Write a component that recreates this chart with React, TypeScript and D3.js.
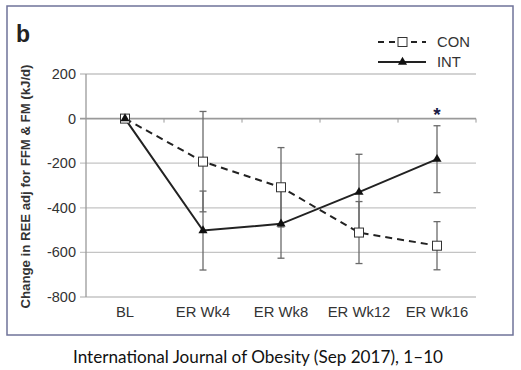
import React from 'react';
import * as d3 from 'd3';

const categories = ['BL', 'ER Wk4', 'ER Wk8', 'ER Wk12', 'ER Wk16'];
const conValues = [0, -193, -308, -511, -570];
const conErrors = [0, 225, 178, 139, 108];
const intValues = [0, -502, -472, -330, -182];
const intErrors = [0, 177, 154, 170, 150];
const yTicks = [200, 0, -200, -400, -600, -800];
const sigIndex = 4;
const sigValue = 62;

const W = 521;
const H = 370;
const font = 'Arial, "Liberation Sans", sans-serif';

const App: React.FC = () => {
  const x = d3.scaleBand<string>().domain(categories).range([86, 476]).padding(0);
  const y = d3.scaleLinear().domain([-800, 200]).range([297, 74]);
  const cx = (i: number) => (x(categories[i]) || 0) + x.bandwidth() / 2;

  const line = d3
    .line<number>()
    .x((_, i) => cx(i))
    .y((d) => y(d));

  const boundaries = categories.map((c) => (x(c) || 0) + x.bandwidth());
  const tri = d3.symbol().type(d3.symbolTriangle).size(36)();

  return (
    <svg width={W} height={H} style={{ position: 'absolute', left: 0, top: 0, background: '#fff' }}>
      <rect x={7} y={6} width={506} height={329} fill="#fff" stroke="#6f7399" strokeWidth={1.5} />
      <text x={16} y={42} fontFamily={font} fontWeight="bold" fontSize={23} fill="#222">b</text>

      {/* grid + y ticks */}
      {yTicks.map((t) => (
        <g key={t}>
          <line x1={80} x2={476} y1={y(t)} y2={y(t)} stroke={t === 0 ? '#9a9a9a' : '#c4c4c4'} strokeWidth={t === 0 ? 1.6 : 1.3} />
          <text x={76} y={y(t)} dy="0.35em" textAnchor="end" fontFamily={font} fontSize={14.5} fill="#333">
            {t}
          </text>
        </g>
      ))}
      <line x1={86} x2={86} y1={y(200)} y2={y(-800)} stroke="#9a9a9a" strokeWidth={1.3} />
      {boundaries.map((bx, i) => (
        <line key={i} x1={bx} x2={bx} y1={y(0)} y2={y(0) + 4} stroke="#9a9a9a" strokeWidth={1} />
      ))}

      {categories.map((c, i) => (
        <text key={c} x={cx(i)} y={317} textAnchor="middle" fontFamily={font} fontSize={14.8} fill="#333">
          {c}
        </text>
      ))}

      <text
        transform={`translate(29.5, ${(y(200) + y(-800)) / 2 + 1}) rotate(-90)`}
        textAnchor="middle"
        fontFamily={font}
        fontWeight="bold"
        fontSize={12.5}
        fill="#333"
        textLength={244}
        lengthAdjust="spacingAndGlyphs"
      >
        Change in REE adj for FFM &amp; FM (kJ/d)
      </text>

      {/* error bars */}
      {[
        { v: conValues, e: conErrors },
        { v: intValues, e: intErrors },
      ].map((s, si) =>
        s.v.map((v, i) =>
          s.e[i] > 0 ? (
            <g key={`${si}-${i}`} stroke="#6a6a6a" strokeWidth={1.3}>
              <line x1={cx(i)} x2={cx(i)} y1={y(v + s.e[i])} y2={y(v - s.e[i])} />
              <line x1={cx(i) - 3.5} x2={cx(i) + 3.5} y1={y(v + s.e[i])} y2={y(v + s.e[i])} />
              <line x1={cx(i) - 3.5} x2={cx(i) + 3.5} y1={y(v - s.e[i])} y2={y(v - s.e[i])} />
            </g>
          ) : null
        )
      )}

      <path d={line(conValues) || ''} fill="none" stroke="#222" strokeWidth={2} strokeDasharray="7,5" />
      <path d={line(intValues) || ''} fill="none" stroke="#222" strokeWidth={2} />

      {conValues.map((v, i) => (
        <rect key={i} x={cx(i) - 4.5} y={y(v) - 4.5} width={9} height={9} fill="#fff" stroke="#333" strokeWidth={1} />
      ))}
      {intValues.map((v, i) => (
        <path key={i} d={tri || ''} transform={`translate(${cx(i)},${y(v)})`} fill="#111" />
      ))}

      <text x={cx(sigIndex)} y={y(sigValue)} dy="0.85em" textAnchor="middle" fontFamily={font} fontWeight="bold" fontSize={19} fill="#1a1b45">
        *
      </text>

      {/* legend */}
      <line x1={378} x2={426} y1={42} y2={42} stroke="#222" strokeWidth={2} strokeDasharray="6,5" />
      <rect x={398} y={37.5} width={9} height={9} fill="#fff" stroke="#333" strokeWidth={1} />
      <text x={437} y={42} dy="0.35em" fontFamily={font} fontSize={14.8} fill="#333">CON</text>
      <line x1={378} x2={426} y1={62} y2={62} stroke="#222" strokeWidth={2} />
      <path d={tri || ''} transform={`translate(402.5,62)`} fill="#111" />
      <text x={437} y={62} dy="0.35em" fontFamily={font} fontSize={14.8} fill="#333">INT</text>

      <text
        x={258}
        y={363}
        textAnchor="middle"
        fontFamily="Lato, 'Open Sans', sans-serif"
        fontSize={17.5}
        fill="#111"
        textLength={370}
        lengthAdjust="spacingAndGlyphs"
      >
        International Journal of Obesity (Sep 2017), 1–10
      </text>
    </svg>
  );
};

export default App;
